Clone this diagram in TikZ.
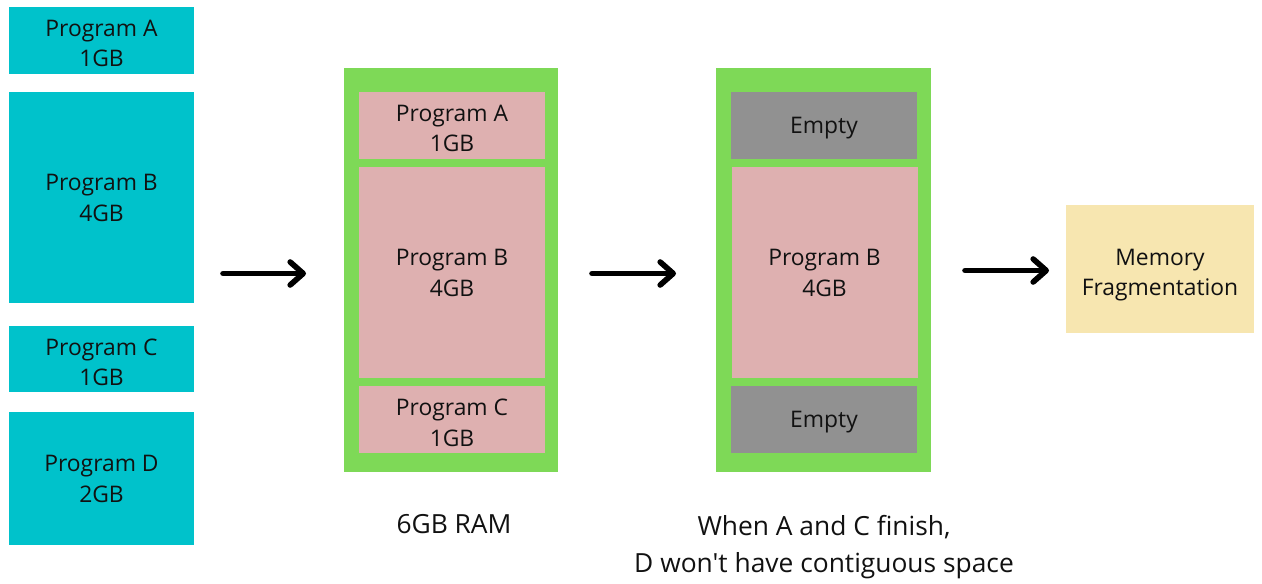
\documentclass[tikz,border=0pt]{standalone}
\usepackage{fontspec}
\setmainfont{Open Sans}
\newfontfamily\plainfont{Open Sans}
\usetikzlibrary{arrows.meta}
\definecolor{progcyan}{HTML}{00C2CB}
\definecolor{ramgreen}{HTML}{7ED957}
\definecolor{progpink}{HTML}{DEB0B0}
\definecolor{emptygrey}{HTML}{919191}
\definecolor{fragyellow}{HTML}{F7E6B0}
\definecolor{inktext}{HTML}{111111}
\tikzset{
  box/.style={inner sep=0pt,align=center,text=inktext,text depth=0pt,
    font=\plainfont\fontsize{13}{17.5}\selectfont,minimum width=3.72cm},
  low/.style={text height=30.6pt},
  prog/.style={box,fill=progcyan,minimum width=3.7cm},
  slot/.style={box,fill=progpink},
  hole/.style={box,fill=emptygrey},
  ram/.style={fill=ramgreen,inner sep=0pt,minimum width=4.29cm,minimum height=8.08cm},
  caption/.style={align=center,text=inktext,font=\plainfont\fontsize{15}{21}\selectfont},
  flow/.style={line width=3.2pt,line cap=round,-{Straight Barb[round,length=2.6mm,width=4.6mm]}}
}
\begin{document}
\begin{tikzpicture}
  \useasboundingbox (0,0) rectangle (25.24,-11.66);

  % programs waiting
  \node[prog,low,minimum height=1.34cm] (pA) at (2.03,-0.80) {Program A\\1GB};
  \node[prog,minimum height=4.22cm] (pB) at (2.03,-3.95) {Program B\\4GB};
  \node[prog,low,minimum height=1.32cm] (pC) at (2.03,-7.18) {Program C\\1GB};
  \node[prog,minimum height=2.66cm] (pD) at (2.03,-9.57) {Program D\\2GB};

  % ram, all loaded
  \node[ram] (ram1) at (9.02,-5.39) {};
  \node[slot,low,minimum height=1.34cm] (r1A) at (9.04,-2.50) {Program A\\1GB};
  \node[slot,minimum height=4.22cm] (r1B) at (9.04,-5.45) {Program B\\4GB};
  \node[slot,low,minimum height=1.34cm] (r1C) at (9.04,-8.39) {Program C\\1GB};
  \node[caption] (lbl1) at (9.08,-10.48) {6GB RAM};

  % ram, after A and C
  \node[ram] (ram2) at (16.47,-5.39) {};
  \node[hole,minimum height=1.34cm] (e1) at (16.48,-2.50) {Empty};
  \node[slot,minimum height=4.22cm] (r2B) at (16.49,-5.45) {Program B\\4GB};
  \node[hole,minimum height=1.34cm] (e2) at (16.48,-8.39) {Empty};
  \node[caption] (lbl2) at (16.48,-10.94) {When A and C finish,\\D won't have contiguous space};

  \node[box,low,fill=fragyellow,minimum width=3.76cm,minimum height=2.56cm] (frag) at (23.20,-5.38) {Memory\\Fragmentation};

  \coordinate (a1s) at (4.46,-5.47);
  \coordinate (a1e) at (6.12,-5.47);
  \coordinate (a2s) at (11.84,-5.47);
  \coordinate (a2e) at (13.52,-5.47);
  \coordinate (a3s) at (19.30,-5.41);
  \coordinate (a3e) at (20.98,-5.41);

  \draw[flow] (a1s) -- (a1e);
  \draw[flow] (a2s) -- (a2e);
  \draw[flow] (a3s) -- (a3e);
\end{tikzpicture}
\end{document}
